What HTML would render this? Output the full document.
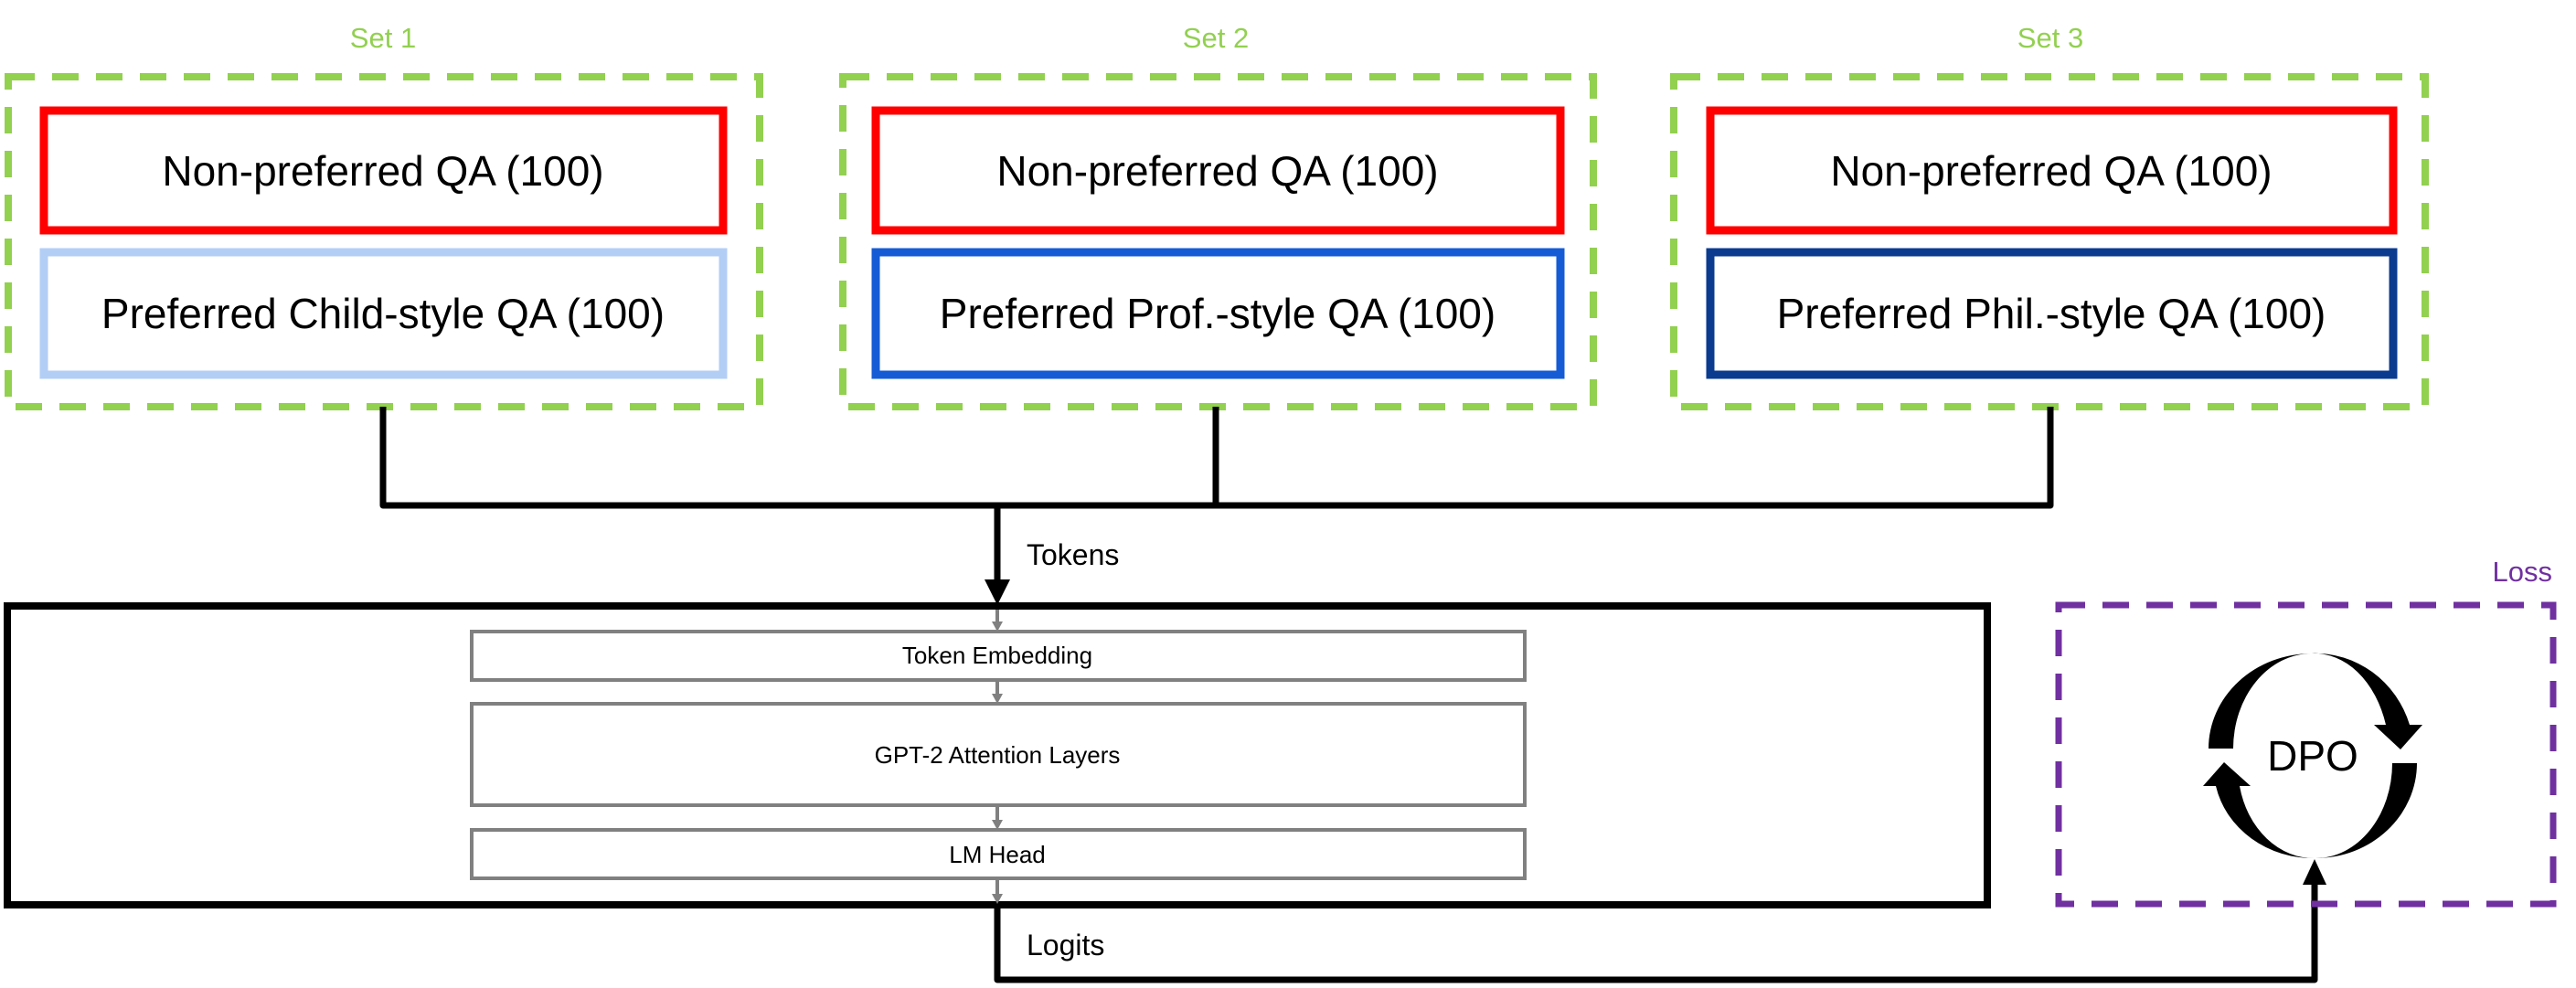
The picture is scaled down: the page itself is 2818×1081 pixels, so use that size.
<!DOCTYPE html>
<html><head><meta charset="utf-8"><style>
html,body{margin:0;padding:0;background:#fff;}
svg{display:block;}
text{font-family:"Liberation Sans",sans-serif;}
</style></head><body>
<svg width="2818" height="1081" viewBox="0 0 2818 1081" xmlns="http://www.w3.org/2000/svg">
<g fill="#92d050" font-size="31" text-anchor="middle">
<text x="419" y="52">Set 1</text>
<text x="1330" y="52">Set 2</text>
<text x="2243" y="52">Set 3</text>
</g>
<g fill="none" stroke="#92d050" stroke-width="8" stroke-dasharray="29 19">
<rect x="9" y="84" width="822" height="361"/>
<rect x="922" y="84" width="821" height="361"/>
<rect x="1831" y="84" width="822" height="361"/>
</g>
<g fill="none" stroke-width="9">
<rect x="48" y="121" width="743" height="131" stroke="#ff0000"/>
<rect x="48" y="276" width="743" height="134" stroke="#b3cef5"/>
<rect x="958" y="121" width="749" height="131" stroke="#ff0000"/>
<rect x="958" y="276" width="749" height="134" stroke="#155bd5"/>
<rect x="1871" y="121" width="747" height="131" stroke="#ff0000"/>
<rect x="1871" y="276" width="747" height="134" stroke="#0b3b8f"/>
</g>
<g font-size="46" text-anchor="middle" fill="#000">
<text x="419" y="203">Non-preferred QA (100)</text>
<text x="419" y="359">Preferred Child-style QA (100)</text>
<text x="1332" y="203">Non-preferred QA (100)</text>
<text x="1332" y="359">Preferred Prof.-style QA (100)</text>
<text x="2244" y="203">Non-preferred QA (100)</text>
<text x="2244" y="359">Preferred Phil.-style QA (100)</text>
</g>
<g fill="none" stroke="#000" stroke-width="7" stroke-linejoin="round">
<path d="M419 445 V553 H2243 V445"/>
<path d="M1330 445 V553"/>
<path d="M1091 553 V636"/>
<path d="M1091 990 V1072 H2532 V965"/>
</g>
<polygon points="1077,634 1105,634 1091,662" fill="#000"/>
<polygon points="2519,968 2545,968 2532,940" fill="#000"/>
<text x="1123" y="618" font-size="32">Tokens</text>
<text x="1123" y="1045" font-size="32">Logits</text>
<rect x="8" y="663" width="2166" height="327" fill="none" stroke="#000" stroke-width="8"/>
<g fill="none" stroke="#808080" stroke-width="4">
<rect x="516" y="691" width="1152" height="53"/>
<rect x="516" y="770" width="1152" height="111"/>
<rect x="516" y="908" width="1152" height="53"/>
<path d="M1091 667 V682 M1091 746 V761 M1091 883 V899 M1091 963 V980"/>
</g>
<g fill="#808080">
<polygon points="1085,680 1097,680 1091,691"/>
<polygon points="1085,759 1097,759 1091,770"/>
<polygon points="1085,897 1097,897 1091,908"/>
<polygon points="1085,978 1097,978 1091,989"/>
</g>
<g font-size="26" text-anchor="middle" fill="#000">
<text x="1091" y="726">Token Embedding</text>
<text x="1091" y="835">GPT-2 Attention Layers</text>
<text x="1091" y="944">LM Head</text>
</g>
<text x="2792" y="636" font-size="31" fill="#7030a0" text-anchor="end">Loss</text>
<rect x="2252" y="662" width="541" height="327" fill="none" stroke="#7030a0" stroke-width="7" stroke-dasharray="29 19"/>
<g fill="#000">
<path d="M2416 819 A113 104 0 0 1 2529 715 A86 104 0 0 0 2443 819 Z"/>
<path d="M2529 715 A108 112 0 0 1 2636 793 L2610 793 A82 112 0 0 0 2529 715 Z"/>
<polygon points="2597,793 2650,793 2626,820"/>
<path d="M2644 835 A111 104 0 0 1 2533 939 A84 104 0 0 0 2617 835 Z"/>
<path d="M2533 939 A109 100 0 0 1 2424 860 L2450 860 A83 100 0 0 0 2533 939 Z"/>
<polygon points="2410,860 2462,860 2433,834"/>
</g>
<text x="2530" y="843" font-size="46" text-anchor="middle">DPO</text>
</svg>
</body></html>
